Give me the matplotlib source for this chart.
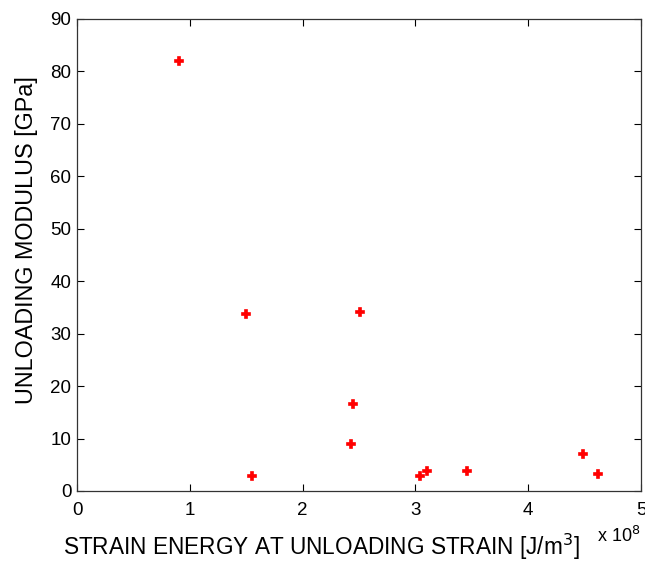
import numpy as np
import matplotlib
matplotlib.use("Agg")
import matplotlib.pyplot as plt

plt.rcParams["font.family"] = ["Liberation Sans", "DejaVu Sans"]

# strain energy (x 1e8 J/m^3) and unloading modulus (GPa)
energy = [0.90, 1.495, 1.55, 2.43, 2.45, 2.51, 3.04, 3.10, 3.46, 4.49, 4.62]
modulus = [82.0, 33.7, 2.9, 9.0, 16.5, 34.1, 2.9, 3.9, 3.75, 7.0, 3.2]

fig = plt.figure(figsize=(6.45, 5.63), dpi=100)
ax = fig.add_axes([0.1194, 0.1279, 0.8744, 0.8384])

ax.plot(energy, modulus, "P", color="red", markersize=5.5,
        markeredgewidth=1.2, markeredgecolor="red")

ax.set_xlim(0, 5)
ax.set_ylim(0, 90)
ax.set_xticks(np.arange(0, 6, 1))
ax.set_yticks(np.arange(0, 100, 10))
ax.tick_params(direction="in", top=True, right=True, labelsize=13.5,
               length=5, width=0.8)
ax.tick_params(axis="x", pad=8)
ax.tick_params(axis="y", pad=4)
for s in ax.spines.values():
    s.set_linewidth(0.9)
    s.set_color("#333333")

ax.set_xlabel("STRAIN ENERGY AT UNLOADING STRAIN [J/m$^3$]", fontsize=16.3, va="center")
ax.set_ylabel("UNLOADING MODULUS [GPa]", fontsize=16.8, va="center")
ax.xaxis.set_label_coords(0.4326, -0.1186)
ax.yaxis.set_label_coords(-0.0904, 0.532)
fig.text(0.926, 0.037, "x 10$^8$", fontsize=13)

fig.savefig("out.png", dpi=100)
